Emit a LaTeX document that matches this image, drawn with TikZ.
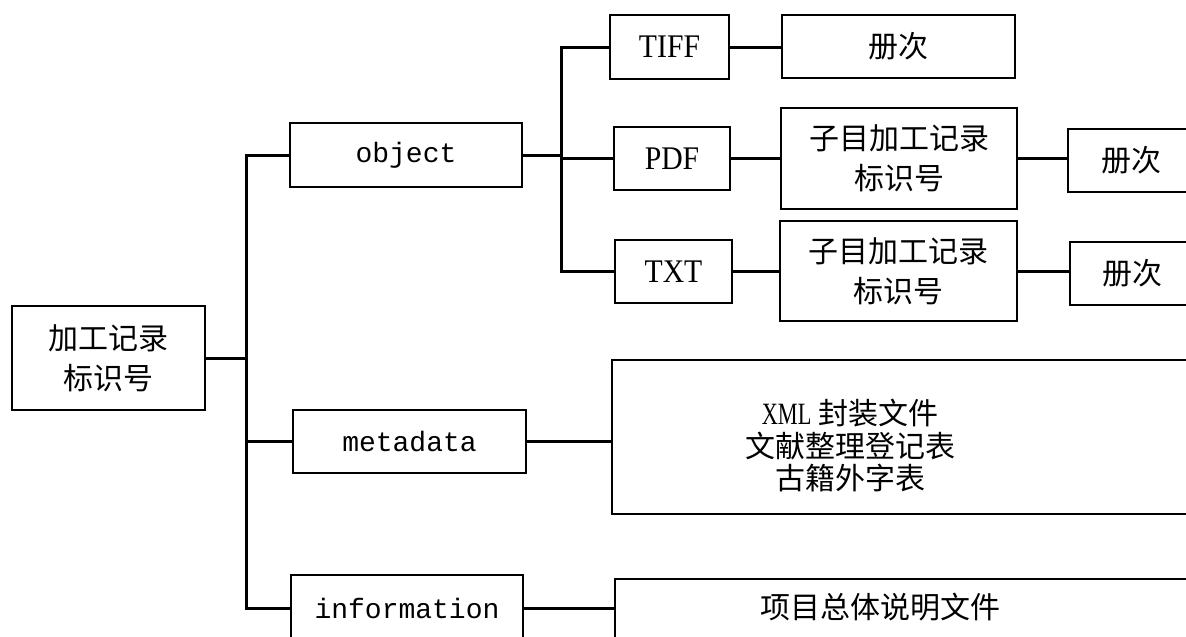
\documentclass[tikz,border=0pt]{standalone}
\usepackage{fontspec}
\newfontfamily\cjk{Noto Sans CJK SC}
\newfontfamily\latmono{Liberation Mono}
\newfontfamily\latserif[FakeStretch=0.9]{Liberation Serif}
\newfontfamily\xmlserif[FakeStretch=0.72]{Liberation Serif}
\begin{document}
\begin{tikzpicture}[x=1pt,y=-1pt,
  box/.style={draw, line width=1.5pt, inner sep=0pt, align=center},
  conn/.style={line width=3pt, line cap=rect},
  cjkt/.style={font=\cjk\fontsize{30}{40}\selectfont, align=center},
  monot/.style={font=\latmono\fontsize{28}{32}\selectfont},
  sert/.style={font=\latserif\fontsize{33}{36}\selectfont}]
\useasboundingbox (0,0) rectangle (1186,637);
\clip (0,0) rectangle (1186,637);
% nodes
\node[box,cjkt,minimum width=193pt,minimum height=104pt] (root) at (108.5,358) {加工记录\\标识号};
\node[box,monot,minimum width=232pt,minimum height=64pt] (object) at (406,155) {object};
\node[box,monot,minimum width=233pt,minimum height=63pt] (metadata) at (409.5,441.5) {metadata};
\node[box,monot,minimum width=232pt,minimum height=66pt] (information) at (407,608) {information};
\node[box,sert,minimum width=119pt,minimum height=64pt] (tiff) at (669.5,47) {TIFF};
\node[box,cjkt,minimum width=233pt,minimum height=63pt] (vol1) at (898.5,46.5) {册次};
\node[box,sert,minimum width=116pt,minimum height=63pt] (pdf) at (672,158.5) {PDF};
\node[box,cjkt,minimum width=236pt,minimum height=101pt] (sub1) at (899,158.5) {子目加工记录\\标识号};
\node[box,cjkt,minimum width=127pt,minimum height=63pt] (vol2) at (1131.5,160.5) {册次};
\node[box,sert,minimum width=117pt,minimum height=63pt] (txt) at (673.5,271.5) {TXT};
\node[box,cjkt,minimum width=237pt,minimum height=100pt] (sub2) at (898.5,271) {子目加工记录\\标识号};
\node[box,cjkt,minimum width=125pt,minimum height=63pt] (vol3) at (1132.5,273.5) {册次};
\node[box,minimum width=588pt,minimum height=154pt] (metabox) at (906,437) {};
\node[cjkt,font=\cjk\fontsize{30}{32.5}\selectfont,inner sep=0pt] (metatext) at (850,446) {{\xmlserif\fontsize{31}{32.5}\selectfont XML} 封装文件\\文献整理登记表\\古籍外字表};
\node[box,minimum width=585pt,minimum height=70pt] (infobox) at (907.5,614) {};
\node[cjkt,inner sep=0pt] (infotext) at (880,607) {项目总体说明文件};
% connectors
\coordinate (trunk) at (246,358);
\coordinate (fork) at (561,155);
\draw[conn] (root.east) -- (trunk);
\draw[conn] (object.west) -| (trunk);
\draw[conn] (metadata.west) -| (trunk);
\draw[conn] (information.west) -| (trunk);
\draw[conn] (object.east) -- (fork);
\draw[conn] (tiff.west) -| (fork);
\draw[conn] (pdf.west) -| (fork);
\draw[conn] (txt.west) -| (fork);
\draw[conn] (tiff.east) -- (tiff.east -| vol1.west);
\draw[conn] (pdf.east) -- (pdf.east -| sub1.west);
\draw[conn] (txt.east) -- (txt.east -| sub2.west);
\draw[conn] (sub1.east) -- (sub1.east -| vol2.west);
\draw[conn] (sub2.east) -- (sub2.east -| vol3.west);
\draw[conn] (metadata.east) -- (metadata.east -| metabox.west);
\draw[conn] (information.east) -- (information.east -| infobox.west);
\end{tikzpicture}
\end{document}
